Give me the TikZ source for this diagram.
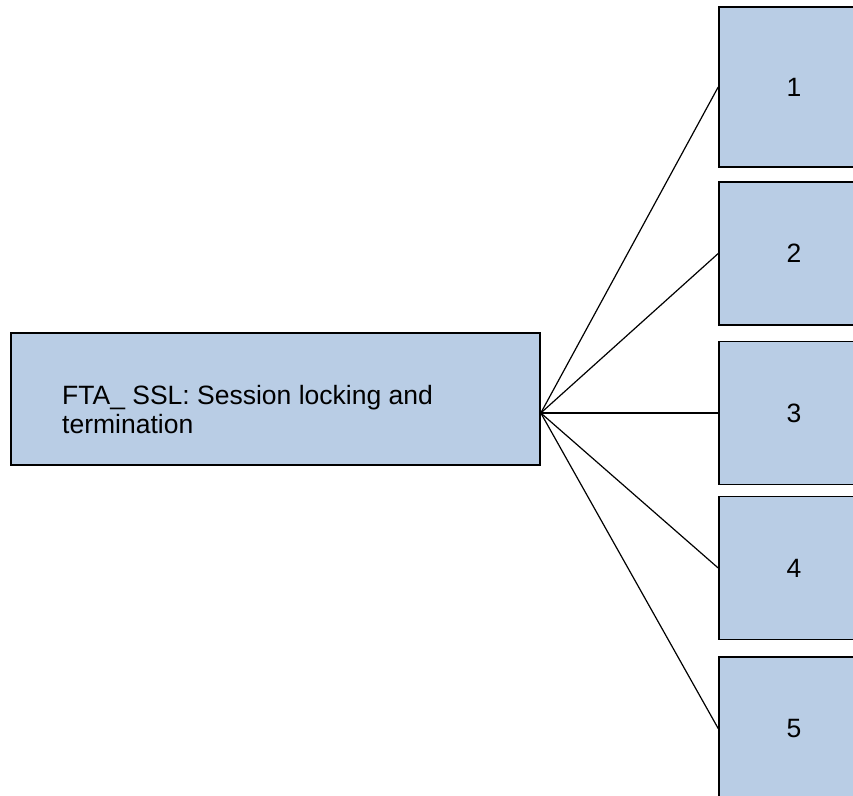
\documentclass[tikz,border=0pt]{standalone}
\usepackage{fontspec}
\setmainfont{Liberation Sans}
\definecolor{boxfill}{RGB}{185,205,229}
\begin{document}
\begin{tikzpicture}[x=1pt,y=-1pt,
  blk/.style={draw=black,line width=1.6pt,fill=boxfill,rectangle,inner sep=0pt},
  conn/.style={draw=black,line width=1.2pt},
  txt/.style={font=\fontsize{26.5}{29}\selectfont}]
\useasboundingbox (0,0) rectangle (853,795);
\clip (0,0) rectangle (853,795);
\node[blk,minimum width=529pt,minimum height=132pt] (main) at (275.5,399) {};
\node[txt,anchor=west,align=left,inner sep=0pt] (mainlbl) at (62,410) {FTA\_ SSL: Session locking and\\termination};
\node[blk,minimum width=150pt,minimum height=160pt,txt] (b1) at (794,87) {1};
\node[blk,minimum width=150pt,minimum height=143pt,txt] (b2) at (794,253.5) {2};
\node[blk,minimum width=150pt,minimum height=143pt,txt] (b3) at (794,413) {3};
\node[blk,minimum width=150pt,minimum height=143pt,txt] (b4) at (794,568) {4};
\node[blk,minimum width=150pt,minimum height=143pt,txt] (b5) at (794,728.5) {5};
\coordinate (hub) at ([yshift=-14pt]main.east);
\foreach \b in {b1,b2,b3,b4,b5} \draw[conn] (hub) -- (\b.west);
\end{tikzpicture}
\end{document}
